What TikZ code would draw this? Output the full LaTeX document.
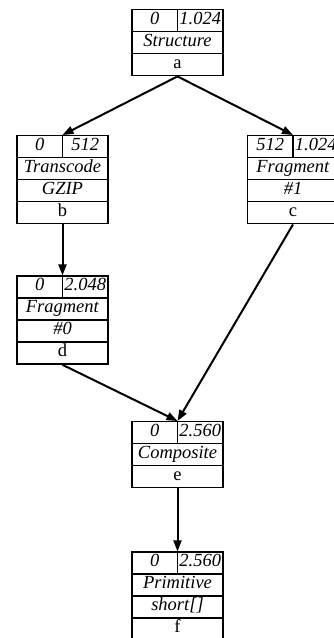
\documentclass[tikz,border=0pt]{standalone}
\usepackage{fontspec}
\setmainfont{Liberation Serif}
\usepackage{tikz}
\usetikzlibrary{positioning, arrows.meta, shapes.multipart}

% one record row is this tall (the splits add a little more)
\newcommand{\rowstrut}{\rule[-6.5pt]{0pt}{20.6pt}}
% top row split in two halves
\newcommand{\halves}[2]{\rowstrut\makebox[0.5\linewidth]{\textit{#1}}\makebox[0.5\linewidth]{\textit{#2}}}

\begin{document}
\begin{tikzpicture}[x=1pt, y=-1pt,
    font=\fontsize{18.5}{20}\selectfont,
    record/.style={draw, line width=1.4pt, rectangle split, anchor=north,
      inner xsep=0pt, inner ysep=0pt, text width=91pt, align=center},
    edge/.style={line width=2pt, -{Triangle[length=11pt, width=8pt]}}]
  \clip (0,0) rectangle (334,638);

  \node[record, rectangle split parts=3] (a) at (177.5,9)
    {\halves{0}{1.024}\nodepart{two}\rowstrut\textit{Structure}\nodepart{three}\rowstrut a};
  \node[record, rectangle split parts=4] (b) at (62.5,135)
    {\halves{0}{512}\nodepart{two}\rowstrut\textit{Transcode}\nodepart{three}\rowstrut\textit{GZIP}\nodepart{four}\rowstrut b};
  \node[record, rectangle split parts=4] (c) at (293,135)
    {\halves{512}{1.024}\nodepart{two}\rowstrut\textit{Fragment}\nodepart{three}\rowstrut\textit{\#1}\nodepart{four}\rowstrut c};
  \node[record, rectangle split parts=4, below=51pt of b] (d)
    {\halves{0}{2.048}\nodepart{two}\rowstrut\textit{Fragment}\nodepart{three}\rowstrut\textit{\#0}\nodepart{four}\rowstrut d};
  \node[record, rectangle split parts=3] (e) at (177.5,421)
    {\halves{0}{2.560}\nodepart{two}\rowstrut\textit{Composite}\nodepart{three}\rowstrut e};
  \node[record, rectangle split parts=4, below=63pt of e] (f)
    {\halves{0}{2.560}\nodepart{two}\rowstrut\textit{Primitive}\nodepart{three}\rowstrut\textit{short[]}\nodepart{four}\rowstrut f};

  % dividers in the top rows
  \foreach \n in {a, b, c, d, e, f}
    \draw[line width=1.4pt] (\n.north) -- (\n.text split);

  \draw[edge] (a.south) -- (b.north);
  \draw[edge] (a.south) -- (c.north);
  \draw[edge] (b.south) -- (d.north);
  \draw[edge] (d.south) -- (e.north);
  \draw[edge] (c.south) -- (e.north);
  \draw[edge] (e.south) -- (f.north);
\end{tikzpicture}
\end{document}
